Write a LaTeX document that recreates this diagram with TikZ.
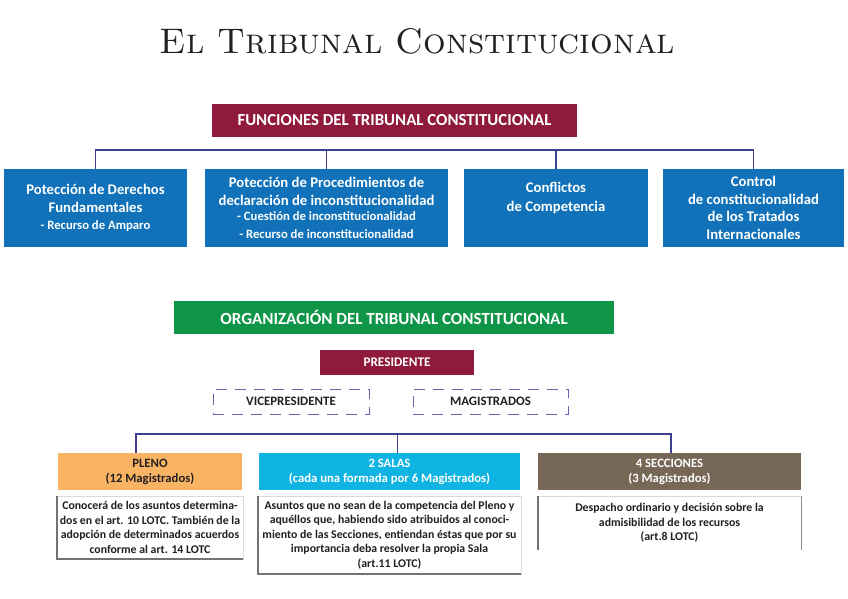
\documentclass[tikz,border=0pt]{standalone}
\usepackage{graphicx}
\usepackage{fontspec}
\newfontfamily\calfont{Carlito}
\usetikzlibrary{calc}
\definecolor{crimson}{HTML}{8F1A3D}
\definecolor{boxblue}{HTML}{1172B9}
\definecolor{boxgreen}{HTML}{0F9548}
\definecolor{boxcyan}{HTML}{10B4E2}
\definecolor{boxorange}{HTML}{F8B463}
\definecolor{boxbrown}{HTML}{776757}
\definecolor{linec}{HTML}{3D3F8F}
\definecolor{dashc}{HTML}{6366A8}
\definecolor{textc}{HTML}{231F20}
\newcommand{\smline}{\fontsize{12.7}{16}\selectfont}
\begin{document}
\begin{tikzpicture}[x=1pt,y=-1pt,
  every node/.style={inner sep=0pt, outer sep=0pt, align=center},
  hdr/.style={fill=crimson, text=white, font=\calfont\bfseries\fontsize{16.8}{19}\selectfont},
  fbox/.style={fill=boxblue, text=white, minimum height=78pt, font=\calfont\bfseries\fontsize{14.7}{17.7}\selectfont},
  dbox/.style={draw=dashc, line width=0.9pt, dash pattern=on 11pt off 8pt, minimum height=25pt, text=textc, font=\calfont\bfseries\fontsize{12.9}{14}\selectfont},
  obox/.style={minimum height=37pt, font=\calfont\bfseries\fontsize{12.7}{15}\selectfont},
  tbox/.style={draw=black!15, fill=white, text=textc, font=\calfont\bfseries\fontsize{11.8}{14.6}\selectfont},
  conn/.style={draw=linec, line width=1.2pt},
  edge1/.style={draw=black!55, line width=1.1pt}]
\useasboundingbox (0,0) rectangle (848,599);

% title
\node[font=\rmfamily, text=textc] (title) at (417.5,41.5)
  {\resizebox{515pt}{!}{\textsc{El Tribunal Constitucional}}};

% functions
\node[hdr, minimum width=365pt, minimum height=33pt] (fun) at (394.5,120.5)
  {FUNCIONES DEL TRIBUNAL CONSTITUCIONAL};

\node[fbox, minimum width=183pt] (b1) at (95.5,208)
  {Potección de Derechos\\Fundamentales\\[-1pt]\smline - Recurso de Amparo};
\node[fbox, minimum width=243pt] (b2) at (326.5,208)
  {Potección de Procedimientos de\\declaración de inconstitucionalidad\\[-2pt]\smline - Cuestión de inconstitucionalidad\\\smline - Recurso de inconstitucionalidad};
\node[fbox, minimum width=184pt] (b3) at (556,208) {};
\node[text=white, font=\calfont\bfseries\fontsize{14.7}{19}\selectfont] (b3t) at ($(b3.center)+(0,-10.5)$)
  {Conflictos\\de Competencia};
\node[fbox, minimum width=181pt] (b4) at (753.5,208)
  {Control\\de constitucionalidad\\de los Tratados\\Internacionales};

\draw[conn] (b1.north) -- ++(0,-19) -| (b4.north);
\draw[conn] (b2.north) -- ++(0,-19);
\draw[conn] (b3.north) -- ++(0,-19);

% organisation
\node[fill=boxgreen, text=white, minimum width=440pt, minimum height=33pt,
  font=\calfont\bfseries\fontsize{17}{20}\selectfont] (org) at (394,317.5)
  {ORGANIZACIÓN DEL TRIBUNAL CONSTITUCIONAL};
\node[fill=crimson, text=white, minimum width=154pt, minimum height=25pt,
  font=\calfont\bfseries\fontsize{13.2}{15}\selectfont] (pres) at (397,362) {PRESIDENTE};
\node[dbox, minimum width=156pt] (vp) at (291,401.5) {VICEPRESIDENTE};
\node[dbox, minimum width=155pt] (mag) at (490.5,401.5) {MAGISTRADOS};

\node[obox, fill=boxorange, text=textc, minimum width=184pt] (pleno) at (150,471.5)
  {PLENO\\(12 Magistrados)};
\node[obox, fill=boxcyan, text=white, minimum width=261pt] (salas) at (389.5,471.5)
  {2 SALAS\\(cada una formada por 6 Magistrados)};
\node[obox, fill=boxbrown, text=white, minimum width=263pt] (secc) at (669.5,471.5)
  {4 SECCIONES\\(3 Magistrados)};

\coordinate (pj) at ($(pleno.north)+(-14,0)$);
\coordinate (sj) at ($(salas.north)+(8,0)$);
\coordinate (cj) at ($(secc.north)+(1.5,0)$);
\draw[conn] (pj) -- ++(0,-19) -| (cj);
\draw[conn] (sj) -- ++(0,-19);

% text boxes
\node[tbox, minimum width=186pt, minimum height=63pt] (pt) at (150,527.5)
  {Conocerá de los asuntos determina-\\dos en el art. 10 LOTC. También de la\\adopción de determinados acuerdos\\conforme al art. 14 LOTC};
\node[tbox, minimum width=263pt, minimum height=78pt] (st) at (389.5,535)
  {Asuntos que no sean de la competencia del Pleno y\\aquéllos que, habiendo sido atribuidos al conoci-\\miento de las Secciones, entiendan éstas que por su\\importancia deba resolver la propia Sala\\(art.11 LOTC)};
\node[tbox, draw=none, minimum width=263pt, minimum height=54pt] (ct) at (669.5,523)
  {Despacho ordinario y decisión sobre la\\admisibilidad de los recursos\\(art.8 LOTC)};

\draw[edge1] (pt.north west) -- (pt.south west) -- (pt.south east);
\draw[edge1] (st.north west) -- (st.south west) -- (st.south east);
\draw[draw=black!15] (ct.north west) -- (ct.north east);
\draw[edge1] (ct.north west) -- (ct.south west);
\draw[draw=black!45, line width=1pt] (ct.north east) -- (ct.south east);
\end{tikzpicture}
\end{document}
